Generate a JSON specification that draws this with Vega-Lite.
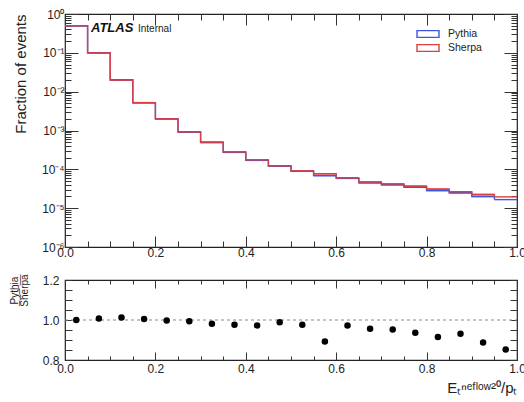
{
  "$schema": "https://vega.github.io/schema/vega-lite/v6.json",
  "background": "white",
  "padding": {"left": 8, "top": 7, "right": 0, "bottom": 5},
  "bounds": "flush",
  "spacing": 33,
  "config": {
    "font": "Liberation Sans",
    "view": {"stroke": "#222", "strokeWidth": 1.2},
    "axis": {"domain": false, "grid": false, "labelFont": "Liberation Sans", "labelFontSize": 12, "labelColor": "#222", "tickColor": "#333", "tickWidth": 1, "titleFont": "Liberation Sans", "titleFontWeight": "normal", "titleColor": "#222"}
  },
  "datasets": {
    "bins": [
      {"lo": 0.00, "hi": 0.05, "mid": 0.025, "Sherpa": 0.5, "Pythia": 0.5, "ratio": 1.000},
      {"lo": 0.05, "hi": 0.10, "mid": 0.075, "Sherpa": 0.1, "Pythia": 0.1008, "ratio": 1.008},
      {"lo": 0.10, "hi": 0.15, "mid": 0.125, "Sherpa": 0.02, "Pythia": 0.02026, "ratio": 1.013},
      {"lo": 0.15, "hi": 0.20, "mid": 0.175, "Sherpa": 0.0052, "Pythia": 0.005226, "ratio": 1.005},
      {"lo": 0.20, "hi": 0.25, "mid": 0.225, "Sherpa": 0.0020, "Pythia": 0.001996, "ratio": 0.998},
      {"lo": 0.25, "hi": 0.30, "mid": 0.275, "Sherpa": 0.00092, "Pythia": 0.000914, "ratio": 0.994},
      {"lo": 0.30, "hi": 0.35, "mid": 0.325, "Sherpa": 0.00050, "Pythia": 0.000491, "ratio": 0.981},
      {"lo": 0.35, "hi": 0.40, "mid": 0.375, "Sherpa": 0.00028, "Pythia": 0.000273, "ratio": 0.976},
      {"lo": 0.40, "hi": 0.45, "mid": 0.425, "Sherpa": 0.000175, "Pythia": 0.000170, "ratio": 0.973},
      {"lo": 0.45, "hi": 0.50, "mid": 0.475, "Sherpa": 0.000123, "Pythia": 0.0001216, "ratio": 0.989},
      {"lo": 0.50, "hi": 0.55, "mid": 0.525, "Sherpa": 0.000091, "Pythia": 0.0000888, "ratio": 0.976},
      {"lo": 0.55, "hi": 0.60, "mid": 0.575, "Sherpa": 0.000077, "Pythia": 0.0000687, "ratio": 0.892},
      {"lo": 0.60, "hi": 0.65, "mid": 0.625, "Sherpa": 0.000060, "Pythia": 0.0000584, "ratio": 0.973},
      {"lo": 0.65, "hi": 0.70, "mid": 0.675, "Sherpa": 0.000047, "Pythia": 0.0000449, "ratio": 0.956},
      {"lo": 0.70, "hi": 0.75, "mid": 0.725, "Sherpa": 0.000042, "Pythia": 0.0000400, "ratio": 0.953},
      {"lo": 0.75, "hi": 0.80, "mid": 0.775, "Sherpa": 0.000037, "Pythia": 0.0000346, "ratio": 0.936},
      {"lo": 0.80, "hi": 0.85, "mid": 0.825, "Sherpa": 0.000031, "Pythia": 0.0000284, "ratio": 0.915},
      {"lo": 0.85, "hi": 0.90, "mid": 0.875, "Sherpa": 0.0000265, "Pythia": 0.0000247, "ratio": 0.931},
      {"lo": 0.90, "hi": 0.95, "mid": 0.925, "Sherpa": 0.0000225, "Pythia": 0.0000200, "ratio": 0.887},
      {"lo": 0.95, "hi": 1.00, "mid": 0.975, "Sherpa": 0.0000195, "Pythia": 0.0000166, "ratio": 0.853}
    ]
  },
  "vconcat": [
    {
      "width": 452,
      "height": 233,
      "resolve": {"axis": {"x": "independent", "y": "independent"}},
      "layer": [
        {
          "data": {"name": "bins"},
          "transform": [{"fold": ["Pythia", "Sherpa"], "as": ["series", "val"]}],
          "mark": {"type": "line", "interpolate": "step-after", "strokeWidth": 1.4},
          "encoding": {
            "x": {"field": "lo", "type": "quantitative", "scale": {"domain": [0, 1], "nice": false, "zero": false},
              "axis": {"orient": "bottom", "title": null, "values": [0,0.05,0.1,0.15,0.2,0.25,0.3,0.35,0.4,0.45,0.5,0.55,0.6,0.65,0.7,0.75,0.8,0.85,0.9,0.95,1],
                "labelExpr": "abs(datum.value*5-round(datum.value*5))<0.001 ? format(datum.value,'.1f') : ''",
                "tickSize": {"condition": {"test": "abs(datum.value*5-round(datum.value*5))<0.001", "value": -11}, "value": -6},
                "labelPadding": 11, "labelFlush": false}},
            "y": {"field": "val", "type": "quantitative", "scale": {"type": "log", "domain": [0.000001, 1], "nice": false},
              "axis": {"orient": "left", "title": "Fraction of events", "titleFontSize": 15, "titleX": -40, "titleAnchor": "end", "titleBaseline": "alphabetic", "titleAngle": -90,
                "values": [0.000001,0.000002,0.000003,0.000004,0.000005,0.000006,0.000007,0.000008,0.000009,0.00001,0.00002,0.00003,0.00004,0.00005,0.00006,0.00007,0.00008,0.00009,0.0001,0.0002,0.0003,0.0004,0.0005,0.0006,0.0007,0.0008,0.0009,0.001,0.002,0.003,0.004,0.005,0.006,0.007,0.008,0.009,0.01,0.02,0.03,0.04,0.05,0.06,0.07,0.08,0.09,0.1,0.2,0.3,0.4,0.5,0.6,0.7,0.8,0.9,1],
                "labelExpr": "abs(log(datum.value)/LN10-round(log(datum.value)/LN10))<0.001 ? '10' + ['⁰','⁻¹','⁻²','⁻³','⁻⁴','⁻⁵','⁻⁶'][round(-log(datum.value)/LN10)] : ''",
                "tickSize": {"condition": {"test": "abs(log(datum.value)/LN10-round(log(datum.value)/LN10))<0.001", "value": -13}, "value": -6},
                "labelPadding": 14}},
            "color": {"field": "series", "type": "nominal", "scale": {"domain": ["Pythia", "Sherpa"], "range": ["#3d57e3", "#df3d40"]},
              "legend": {"orient": "none", "legendX": 357, "legendY": 14, "title": null, "symbolType": "M-2.2,-0.68H2.2V0.68H-2.2Z", "symbolSize": 100, "symbolStrokeWidth": 1.4, "symbolFillColor": "white", "labelFontSize": 10.5, "labelColor": "#222", "labelOffset": 14, "rowPadding": 0}}
          }
        },
        {
          "data": {"name": "bins"},
          "transform": [{"fold": ["Pythia", "Sherpa"], "as": ["series", "val"]}],
          "mark": {"type": "rule", "strokeWidth": 1.4},
          "encoding": {
            "x": {"field": "lo", "type": "quantitative",
              "axis": {"orient": "top", "title": null, "labels": false, "values": [0,0.05,0.1,0.15,0.2,0.25,0.3,0.35,0.4,0.45,0.5,0.55,0.6,0.65,0.7,0.75,0.8,0.85,0.9,0.95,1],
                "tickSize": {"condition": {"test": "abs(datum.value*5-round(datum.value*5))<0.001", "value": -11}, "value": -6}}},
            "x2": {"field": "hi"},
            "y": {"field": "val", "type": "quantitative",
              "axis": {"orient": "right", "title": null, "labels": false,
                "values": [0.000001,0.000002,0.000003,0.000004,0.000005,0.000006,0.000007,0.000008,0.000009,0.00001,0.00002,0.00003,0.00004,0.00005,0.00006,0.00007,0.00008,0.00009,0.0001,0.0002,0.0003,0.0004,0.0005,0.0006,0.0007,0.0008,0.0009,0.001,0.002,0.003,0.004,0.005,0.006,0.007,0.008,0.009,0.01,0.02,0.03,0.04,0.05,0.06,0.07,0.08,0.09,0.1,0.2,0.3,0.4,0.5,0.6,0.7,0.8,0.9,1],
                "tickSize": {"condition": {"test": "abs(log(datum.value)/LN10-round(log(datum.value)/LN10))<0.001", "value": -13}, "value": -6}}},
            "color": {"field": "series", "type": "nominal"}
          }
        },
        {
          "data": {"values": [{"t": "ATLAS"}]},
          "mark": {"type": "text", "font": "Liberation Sans", "fontStyle": "italic", "fontWeight": "bold", "fontSize": 13, "align": "left", "baseline": "alphabetic", "color": "#111"},
          "encoding": {
            "text": {"field": "t"},
            "x": {"datum": 0.0575, "type": "quantitative", "axis": null},
            "y": {"datum": 0.344, "type": "quantitative", "axis": null}
          }
        },
        {
          "data": {"values": [{"t": "Internal"}]},
          "mark": {"type": "text", "font": "Liberation Sans", "fontSize": 10, "align": "left", "baseline": "alphabetic", "color": "#222"},
          "encoding": {
            "text": {"field": "t"},
            "x": {"datum": 0.1615, "type": "quantitative", "axis": null},
            "y": {"datum": 0.344, "type": "quantitative", "axis": null}
          }
        }
      ]
    },
    {
      "width": 452,
      "height": 80,
      "resolve": {"axis": {"x": "independent", "y": "independent"}},
      "layer": [
        {
          "data": {"values": [{"ref": 1, "from": 0, "to": 1}]},
          "mark": {"type": "rule", "strokeDash": [3, 3], "color": "#888", "strokeWidth": 1.2},
          "encoding": {
            "x": {"field": "from", "type": "quantitative", "scale": {"domain": [0, 1], "nice": false, "zero": false},
              "axis": {"orient": "top", "title": null, "labels": false, "values": [0,0.05,0.1,0.15,0.2,0.25,0.3,0.35,0.4,0.45,0.5,0.55,0.6,0.65,0.7,0.75,0.8,0.85,0.9,0.95,1],
                "tickSize": {"condition": {"test": "abs(datum.value*5-round(datum.value*5))<0.001", "value": -8}, "value": -4}}},
            "x2": {"field": "to"},
            "y": {"field": "ref", "type": "quantitative", "scale": {"domain": [0.8, 1.2], "nice": false, "zero": false},
              "axis": {"orient": "right", "title": null, "labels": false, "values": [0.8,0.85,0.9,0.95,1,1.05,1.1,1.15,1.2], "tickSize": -7}}
          }
        },
        {
          "data": {"name": "bins"},
          "mark": {"type": "circle", "size": 42, "color": "#000", "opacity": 1},
          "encoding": {
            "x": {"field": "mid", "type": "quantitative",
              "axis": {"orient": "bottom", "title": "Eₜⁿᵉᶠˡᵒʷ²⁰/pₜ", "titleFontSize": 15, "titleX": 452, "titleY": 32, "titleAlign": "right", "titleBaseline": "alphabetic",
                "values": [0,0.05,0.1,0.15,0.2,0.25,0.3,0.35,0.4,0.45,0.5,0.55,0.6,0.65,0.7,0.75,0.8,0.85,0.9,0.95,1],
                "labelExpr": "abs(datum.value*5-round(datum.value*5))<0.001 ? format(datum.value,'.1f') : ''",
                "tickSize": {"condition": {"test": "abs(datum.value*5-round(datum.value*5))<0.001", "value": -8}, "value": -4},
                "labelPadding": 11, "labelFlush": false}},
            "y": {"field": "ratio", "type": "quantitative",
              "axis": {"orient": "left", "title": ["Pythia", "S̅h̅e̅r̅p̅a̅"], "titleFontSize": 10, "titleLineHeight": 10, "titleX": -56, "titleY": 10, "titleAlign": "center", "titleBaseline": "top", "titleAngle": -90,
                "values": [0.8,0.85,0.9,0.95,1,1.05,1.1,1.15,1.2],
                "labelExpr": "abs(datum.value*5-round(datum.value*5))<0.001 ? format(datum.value,'.1f') : ''",
                "tickSize": -7, "labelPadding": 13}}
          }
        }
      ]
    }
  ]
}
